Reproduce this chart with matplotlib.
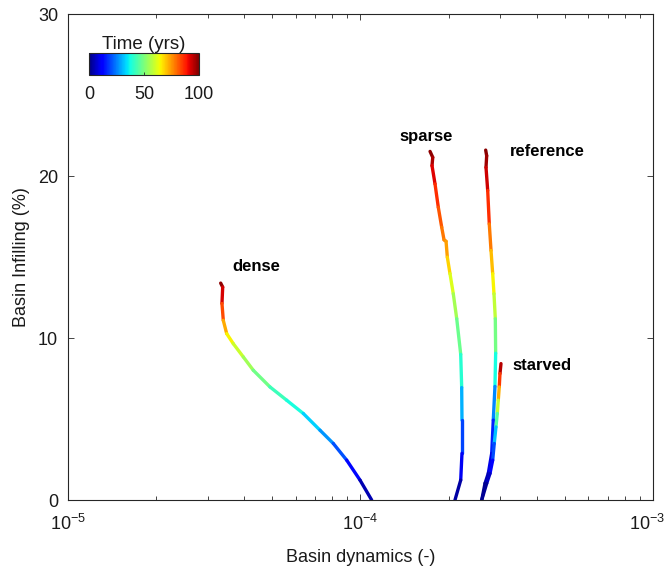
import matplotlib
matplotlib.use("Agg")
import matplotlib.pyplot as plt
import matplotlib.transforms as mtransforms
import numpy as np
from matplotlib.collections import LineCollection
from matplotlib.cm import ScalarMappable
from matplotlib.colors import Normalize

plt.rcParams["font.family"] = ["Liberation Sans", "DejaVu Sans"]
plt.rcParams["mathtext.default"] = "regular"

# trajectories: basin dynamics (x), basin infilling % (y), elapsed time (yrs)
dense_x = [3.327e-5, 3.380e-5, 3.361e-5, 3.396e-5, 3.488e-5, 3.674e-5, 3.976e-5, 4.300e-5,
           4.904e-5, 5.593e-5, 6.375e-5, 7.269e-5, 8.072e-5, 8.970e-5, 9.961e-5, 1.092e-4]
dense_y = [13.39, 13.14, 12.13, 11.09, 10.27, 9.65, 8.83, 8.01,
           6.98, 6.16, 5.34, 4.31, 3.49, 2.46, 1.23, 0.0]
dense_t = [100, 97, 88, 78, 68, 62, 57, 52, 45, 40, 36, 30, 24, 17, 9, 0]

sparse_x = [1.729e-4, 1.766e-4, 1.756e-4, 1.798e-4, 1.845e-4, 1.895e-4, 1.930e-4, 1.961e-4,
            1.981e-4, 2.023e-4, 2.076e-4, 2.133e-4, 2.201e-4, 2.218e-4, 2.223e-4, 2.223e-4,
            2.201e-4, 2.104e-4]
sparse_y = [21.52, 21.15, 20.64, 19.51, 18.07, 16.84, 16.06, 15.97,
            14.99, 13.97, 12.73, 11.19, 8.99, 6.94, 4.93, 2.88, 1.23, 0.0]
sparse_t = [100, 97, 95, 88, 84, 80, 77, 76, 72, 65, 58, 52, 44, 35, 25, 14, 7, 0]

ref_x = [2.679e-4, 2.700e-4, 2.686e-4, 2.722e-4, 2.756e-4, 2.794e-4, 2.831e-4, 2.860e-4,
         2.890e-4, 2.898e-4, 2.882e-4, 2.844e-4, 2.809e-4, 2.735e-4, 2.665e-4, 2.597e-4]
ref_y = [21.60, 21.25, 20.53, 19.10, 17.04, 15.40, 13.97, 12.73,
         11.19, 9.06, 7.01, 4.93, 2.88, 1.65, 1.03, 0.0]
ref_t = [100, 98, 96, 90, 82, 74, 68, 62, 55, 43, 32, 20, 12, 6, 3, 0]

starved_x = [3.022e-4, 2.998e-4, 2.981e-4, 2.958e-4, 2.935e-4, 2.905e-4, 2.866e-4, 2.831e-4,
             2.772e-4, 2.701e-4, 2.597e-4]
starved_y = [8.42, 7.80, 6.98, 6.16, 5.34, 4.51, 3.49, 2.46, 1.64, 1.03, 0.0]
starved_t = [100, 90, 80, 65, 52, 38, 25, 15, 8, 4, 0]

labels = ["dense", "sparse", "reference", "starved"]
label_x = [3.64e-5, 1.355e-4, 3.24e-4, 3.32e-4]
label_y = [14.4, 22.45, 21.5, 8.3]

cmap = plt.get_cmap("jet")
norm = Normalize(0, 100)
axis_col = "#262626"
text_col = "#1a1a1a"

fig = plt.figure(figsize=(6.69, 5.70), dpi=100)
ax = fig.add_axes([0.1016, 0.1228, 0.8745, 0.8526])

series = [(dense_x, dense_y, dense_t), (sparse_x, sparse_y, sparse_t),
          (ref_x, ref_y, ref_t), (starved_x, starved_y, starved_t)]
for xs, ys, ts in series:
    pts = np.column_stack([xs, ys])
    segs = np.stack([pts[:-1], pts[1:]], axis=1)
    tmid = 0.5 * (np.asarray(ts[:-1]) + np.asarray(ts[1:]))
    lc = LineCollection(segs, colors=cmap(norm(tmid)), linewidths=2.4,
                        capstyle="round", joinstyle="round")
    ax.add_collection(lc)

for name, lx, ly in zip(labels, label_x, label_y):
    ax.text(lx, ly, name, fontsize=12, fontweight="bold", va="center", ha="left")

ax.set_xscale("log")
ax.set_xlim(1e-5, 1e-3)
ax.set_ylim(0, 30)
ax.set_yticks([0, 10, 20, 30])
ax.set_xticks([1e-5, 1e-4, 1e-3])
ax.set_xticklabels([r"$10^{-5}$", r"$10^{-4}$", r"$10^{-3}$"])
ax.tick_params(which="both", direction="in", top=True, right=True,
               colors=axis_col, labelcolor=text_col, labelsize=13, width=0.6)
ax.tick_params(axis="x", pad=10)
ax.tick_params(axis="y", pad=7)
ax.tick_params(which="major", length=4.5)
ax.tick_params(which="minor", length=3)
# keep the right-most decade label inside the figure
last = ax.get_xticklabels()[-1]
last.set_transform(last.get_transform() +
                   mtransforms.ScaledTranslation(-4 / 72, 0, fig.dpi_scale_trans))
for sp in ax.spines.values():
    sp.set_color(axis_col)
    sp.set_linewidth(0.8)
ax.set_xlabel("Basin dynamics (-)", fontsize=13, color=text_col, labelpad=11)
ax.set_ylabel("Basin Infilling (%)", fontsize=13, color=text_col, labelpad=6)

# time colorbar inset
cax = fig.add_axes([0.133, 0.8684, 0.1644, 0.0386])
cb = fig.colorbar(ScalarMappable(norm=norm, cmap=cmap), cax=cax, orientation="horizontal")
cb.set_ticks([0, 50, 100])
cb.outline.set_edgecolor(axis_col)
cb.outline.set_linewidth(0.8)
cax.tick_params(direction="in", length=2, width=0.6, colors=axis_col,
                labelcolor=text_col, labelsize=13, pad=8)
cax.set_title("Time (yrs)", fontsize=13.5, pad=1, color=text_col)

fig.savefig("out.png", dpi=100)
